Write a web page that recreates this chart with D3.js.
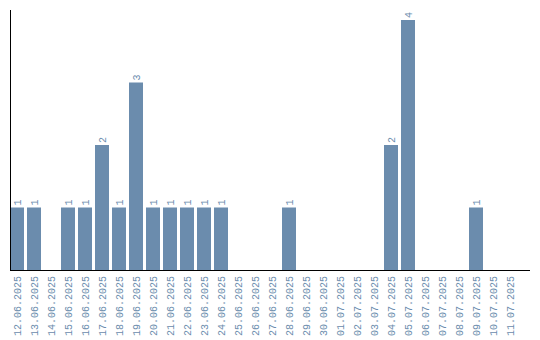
<!DOCTYPE html>
<html lang="en">
<head>
  <meta charset="UTF-8">
  <title>daily counts</title>
  <script src="https://d3js.org/d3.v7.min.js"></script>
  <style>
    body { margin: 0; background: #fff; }
  </style>
</head>
<body>
<script>
  const WIDTH = 540;
  const HEIGHT = 340;
  const days = ['12.06.2025', '13.06.2025', '14.06.2025', '15.06.2025', '16.06.2025',
    '17.06.2025', '18.06.2025', '19.06.2025', '20.06.2025', '21.06.2025',
    '22.06.2025', '23.06.2025', '24.06.2025', '25.06.2025', '26.06.2025',
    '27.06.2025', '28.06.2025', '29.06.2025', '30.06.2025', '01.07.2025',
    '02.07.2025', '03.07.2025', '04.07.2025', '05.07.2025', '06.07.2025',
    '07.07.2025', '08.07.2025', '09.07.2025', '10.07.2025', '11.07.2025'];
  const counts = [1, 1, 0, 1, 1, 2, 1, 3, 1, 1, 1, 1, 1, 0, 0, 0, 1, 0, 0, 0, 0, 0, 2, 4, 0, 0, 0, 1, 0, 0];

  const barColor = '#6b8cad';
  const FONT = 'Liberation Mono, monospace';

  const x = d3.scaleBand()
    .domain(days)
    .range([10, 520])
    .paddingInner(3 / 17)
    .paddingOuter(1.5 / 17)
    .align(0);

  const y = d3.scaleLinear()
    .domain([0, 4])
    .range([270, 20]);

  const svg = d3.select('body')
    .append('svg')
    .attr('width', WIDTH)
    .attr('height', HEIGHT);

  const data = days.map((d, i) => ({ day: d, n: counts[i] }));

  svg.selectAll('rect')
    .data(data.filter(d => d.n > 0))
    .enter()
    .append('rect')
    .attr('x', d => x(d.day))
    .attr('y', d => y(d.n))
    .attr('width', x.bandwidth())
    .attr('height', d => y(0) - y(d.n))
    .attr('fill', barColor);

  // value labels, rotated
  svg.selectAll('.val')
    .data(data.filter(d => d.n > 0))
    .enter()
    .append('text')
    .attr('class', 'val')
    .attr('transform', d => `translate(${x(d.day) + x.bandwidth() / 2 + 4},${y(d.n) - 2}) rotate(-90)`)
    .attr('font-family', FONT)
    .attr('font-size', 10)
    .attr('fill', barColor)
    .text(d => d.n);

  // x axis
  const xAxis = d3.axisBottom(x).tickSize(0).tickPadding(0);
  const gx = svg.append('g')
    .attr('transform', `translate(0,${y(0)})`)
    .call(xAxis);
  gx.select('.domain').remove();
  gx.selectAll('text')
    .attr('font-family', FONT)
    .attr('font-size', 10)
    .attr('fill', barColor)
    .attr('text-anchor', 'end')
    .attr('dy', null)
    .attr('y', 0)
    .attr('transform', 'translate(4,6) rotate(-90)');

  svg.append('line')
    .attr('x1', 10).attr('x2', 530)
    .attr('y1', y(0) + 0.5).attr('y2', y(0) + 0.5)
    .attr('stroke', '#000');

  svg.append('line')
    .attr('x1', 10.5).attr('x2', 10.5)
    .attr('y1', 10).attr('y2', y(0))
    .attr('stroke', '#000');
</script>
</body>
</html>
